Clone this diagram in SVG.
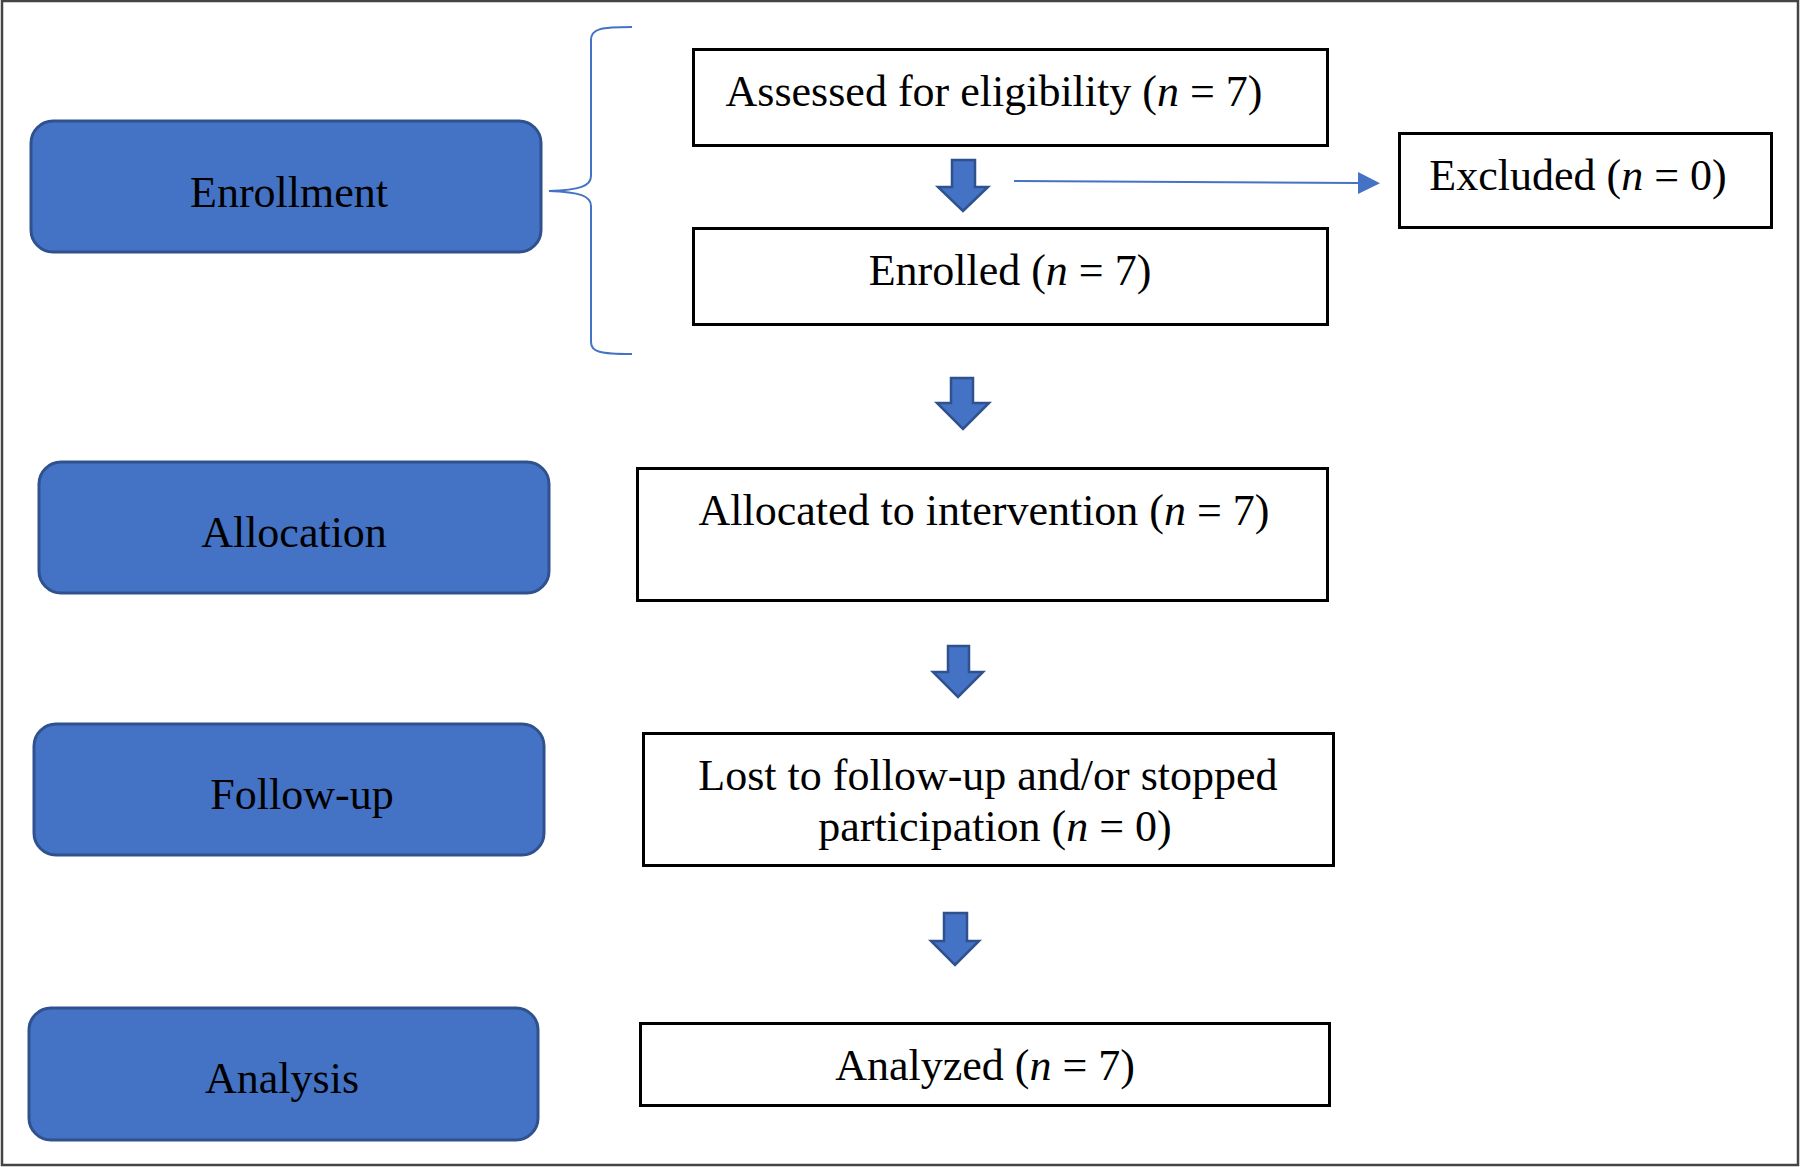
<svg xmlns="http://www.w3.org/2000/svg" width="1800" height="1167" viewBox="0 0 1800 1167">
<defs>
<style>
.stage{fill:#4472C4;stroke:#2F528F;stroke-width:3}
.box{fill:#fff;stroke:#000;stroke-width:3}
.t{font-family:"Liberation Serif","Times New Roman",serif;font-size:44px;fill:#000;text-anchor:middle}
.blk{fill:#4472C4;stroke:#2F528F;stroke-width:2.5;stroke-linejoin:miter}
.thin{fill:none;stroke:#4472C4;stroke-width:2}
</style>
<marker id="ah" markerWidth="22" markerHeight="22" refX="0" refY="11" orient="auto" markerUnits="userSpaceOnUse" viewBox="0 0 22 22">
<path d="M0,0 L22,11 L0,22 Z" fill="#4472C4"/>
</marker>
</defs>
<rect x="0" y="0" width="1800" height="1167" fill="#fff"/>
<rect x="2" y="1" width="1796" height="1164" fill="none" stroke="#444" stroke-width="2.5"/>

<g id="stage-enrollment"><rect class="stage" x="31" y="121" width="510" height="131" rx="22"/><text class="t" x="289" y="207">Enrollment</text></g>
<g id="stage-allocation"><rect class="stage" x="39" y="462" width="510" height="131" rx="22"/><text class="t" x="294" y="547">Allocation</text></g>
<g id="stage-followup"><rect class="stage" x="34" y="724" width="510" height="131" rx="22"/><text class="t" x="302" y="809">Follow-up</text></g>
<g id="stage-analysis"><rect class="stage" x="29" y="1008" width="509" height="132" rx="22"/><text class="t" x="282" y="1093">Analysis</text></g>

<g id="assessed"><rect class="box" x="693.5" y="49.5" width="634" height="96"/><text class="t" x="994" y="106">Assessed for eligibility (<tspan font-style="italic">n</tspan> = 7)</text></g>
<g id="excluded"><rect class="box" x="1399.5" y="133.5" width="372" height="94"/><text class="t" x="1578" y="190">Excluded (<tspan font-style="italic">n</tspan> = 0)</text></g>
<g id="enrolled"><rect class="box" x="693.5" y="228.5" width="634" height="96"/><text class="t" x="1010" y="285">Enrolled (<tspan font-style="italic">n</tspan> = 7)</text></g>
<g id="allocated"><rect class="box" x="637.5" y="468.5" width="690" height="132"/><text class="t" x="984" y="525">Allocated to intervention (<tspan font-style="italic">n</tspan> = 7)</text></g>
<g id="lost"><rect class="box" x="643.5" y="733.5" width="690" height="132"/><text class="t" x="988" y="790">Lost to follow-up and/or stopped</text><text class="t" x="995" y="841">participation (<tspan font-style="italic">n</tspan> = 0)</text></g>
<g id="analyzed"><rect class="box" x="640.5" y="1023.5" width="689" height="82"/><text class="t" x="985" y="1080">Analyzed (<tspan font-style="italic">n</tspan> = 7)</text></g>

<g id="connectors">
<path class="thin" d="M632,27 C600,27 591,29 591,40 L591,176 C591,186 580,190 549,191 C580,192 591,196 591,206 L591,342 C591,352 600,354 632,354"/>
<path class="thin" d="M1014,181 L1358,183" marker-end="url(#ah)"/>
<path class="blk" d="M952,160 L975,160 L975,187 L988,187 L963,211 L938,187 L952,187 Z"/>
<path class="blk" d="M951,378 L973,378 L973,403 L989,403 L963,429 L937,403 L951,403 Z"/>
<path class="blk" d="M948,646 L969,646 L969,672 L983,672 L958,697 L933,672 L948,672 Z"/>
<path class="blk" d="M944,913 L967,913 L967,941 L979,941 L955,965 L931,941 L944,941 Z"/>
</g>
</svg>
